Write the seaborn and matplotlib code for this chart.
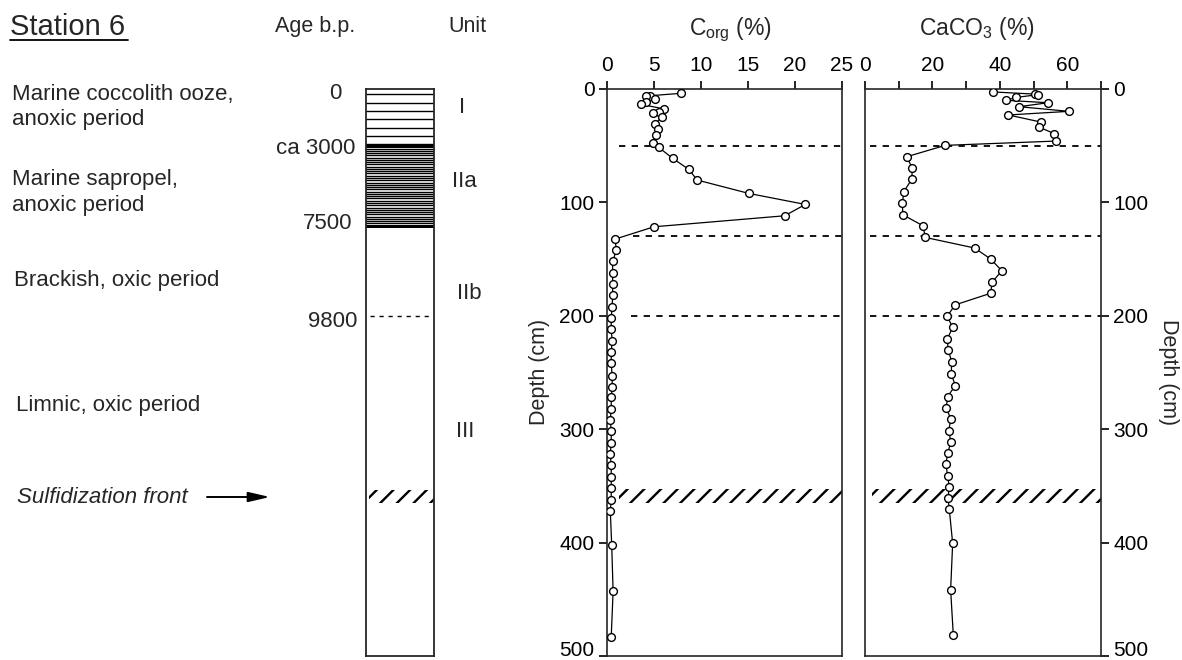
import numpy as np
import pandas as pd
import matplotlib
matplotlib.use("Agg")
import matplotlib.pyplot as plt
import matplotlib.transforms as mtransforms
import seaborn as sns
from matplotlib.patches import Rectangle
from matplotlib.lines import Line2D

# ---------------- data ----------------
corg_depth = [3.8, 5.9, 6.3, 8.8, 11.2, 13.5, 17.6, 20.6, 21.2, 25.0, 30.9, 35.0, 40.6, 47.4,
              51.5, 61.2, 70.9, 80.3, 92.1, 101.8, 111.8, 121.5, 132.4,
              142, 152, 162, 172, 182, 192, 202, 212, 222, 232, 242, 253, 263, 272, 282,
              292, 302, 312, 322, 332, 342, 352, 362, 372, 402, 443, 483]
corg_value = [7.9, 4.6, 4.2, 5.1, 4.2, 3.6, 6.1, 5.5, 4.9, 5.8, 5.1, 5.4, 5.2, 4.9,
              5.5, 7.0, 8.7, 9.6, 15.1, 21.1, 18.9, 5.0, 0.85,
              1.0, 0.6, 0.6, 0.6, 0.6, 0.55, 0.45, 0.45, 0.55, 0.45, 0.45, 0.55, 0.55, 0.45, 0.45,
              0.35, 0.45, 0.45, 0.35, 0.45, 0.45, 0.45, 0.45, 0.35, 0.5, 0.65, 0.45]

caco3_depth = [2.6, 4.5, 5.0, 7.4, 10.0, 12.1, 15.6, 19.7, 22.9, 29.1, 33.5, 39.4, 45.9, 49.7,
               59.7, 69.7, 79.4, 90.6, 100.9, 110.9, 120.6, 130.9, 140.2, 150.0, 160.3, 170.3,
               180.1, 190.4, 200.4, 210.3, 220.4, 230.4, 240.3, 251.5, 261.5, 271.2, 281.3,
               291.3, 301.2, 311.3, 321.0, 331.0, 341.0, 351.0, 360.7, 370.4, 400.7, 441.6, 481.9]
caco3_value = [38.0, 50.3, 51.3, 44.9, 41.9, 54.3, 45.7, 60.5, 42.5, 52.1, 51.5, 56.2, 56.8, 23.8,
               12.4, 14.0, 13.9, 11.5, 11.1, 11.2, 17.2, 17.9, 32.5, 37.3, 40.6, 37.7,
               37.3, 26.7, 24.4, 26.0, 24.4, 24.7, 25.7, 25.6, 26.8, 24.5, 24.1,
               25.5, 24.8, 25.5, 24.5, 24.0, 24.5, 25.0, 24.6, 25.0, 26.0, 25.4, 26.2]

boundary_depths = [50, 130, 200]
sulfidization_depth = [353, 365]
corg_ticks = [0, 5, 10, 15, 20, 25]
caco3_ticks = [0, 10, 20, 30, 40, 50, 60, 70]
caco3_ticklabels = ["0", "", "20", "", "40", "", "60", ""]
depth_ticks = [0, 100, 200, 300, 400, 500]

age_labels = ["0", "ca 3000", "7500", "9800"]
unit_labels = ["I", "IIa", "IIb", "III"]
period_labels = ["Marine coccolith ooze,\nanoxic period", "Marine sapropel,\nanoxic period",
                 "Brackish, oxic period", "Limnic, oxic period"]

# ---------------- style ----------------
sns.set_style("ticks")
plt.rcParams["font.family"] = ["Liberation Sans", "DejaVu Sans"]
plt.rcParams["mathtext.fontset"] = "custom"
plt.rcParams["mathtext.rm"] = "Liberation Sans"
plt.rcParams["mathtext.it"] = "Liberation Sans:italic"
plt.rcParams["hatch.linewidth"] = 1.7
plt.rcParams["axes.linewidth"] = 1.2

W, H = 1182, 660
fig = plt.figure(figsize=(W / 100, H / 100), dpi=100)
fig.patch.set_facecolor("white")


def fx(x):
    return x / W


def fy(y):
    return 1 - y / H


top_px, bot_px = 89, 656
ax_core = fig.add_axes([fx(366), fy(bot_px), (434 - 366) / W, (bot_px - top_px) / H])
ax1 = fig.add_axes([fx(607), fy(bot_px), (842 - 607) / W, (bot_px - top_px) / H])
ax2 = fig.add_axes([fx(865), fy(bot_px), (1101 - 865) / W, (bot_px - top_px) / H])

line_kw = dict(sort=False, estimator=None, marker="o", markersize=5.6,
               markerfacecolor="white", markeredgecolor="black", markeredgewidth=1.0,
               color="black", linewidth=0.9, zorder=5)

df1 = pd.DataFrame({"value": corg_value, "depth": corg_depth})
df2 = pd.DataFrame({"value": caco3_value, "depth": caco3_depth})
sns.lineplot(data=df1, x="value", y="depth", ax=ax1, **line_kw)
sns.lineplot(data=df2, x="value", y="depth", ax=ax2, **line_kw)

for ax in (ax1, ax2):
    ax.set_ylim(500, 0)
    ax.set_xlabel("")
    ax.set_ylabel("")
    for s in ax.spines.values():
        s.set_visible(True)
        s.set_linewidth(1.2)
    ax.tick_params(axis="both", direction="out", length=6, width=1.2, labelsize=15,
                   colors="black")
    ax.set_yticks(depth_ticks)

ax1.set_xlim(0, 25)
ax1.set_xticks(corg_ticks)
ax1.tick_params(axis="x", top=True, bottom=False, labeltop=True, labelbottom=False, pad=4)
ax1.tick_params(axis="y", left=True, right=False, labelleft=True, labelright=False, pad=3)

ax2.set_xlim(0, 70)
ax2.set_xticks(caco3_ticks)
ax2.set_xticklabels(caco3_ticklabels)
ax2.tick_params(axis="x", top=True, bottom=False, labeltop=True, labelbottom=False, pad=4)
ax2.tick_params(axis="y", left=False, right=True, labelleft=False, labelright=True, pad=3)

# lift the bottom "500" labels slightly so they stay inside the figure
fig.canvas.draw()
shift = mtransforms.ScaledTranslation(0, 8 / 100, fig.dpi_scale_trans)
for ax in (ax1, ax2):
    last = ax.yaxis.get_major_ticks()[-1]
    last.label1.set_transform(last.label1.get_transform() + shift)
    last.label2.set_transform(last.label2.get_transform() + shift)

# boundaries
dash = (0, (3.5, 3.5))
ax1.axhline(boundary_depths[0], xmin=0.05, xmax=1, color="black", lw=1.3, ls=dash, zorder=2)
ax1.axhline(boundary_depths[1], xmin=0.11, xmax=1, color="black", lw=1.3, ls=dash, zorder=2)
ax1.axhline(boundary_depths[2], xmin=0.10, xmax=1, color="black", lw=1.3, ls=dash, zorder=2)
for d in boundary_depths:
    ax2.axhline(d, xmin=0.02, xmax=1, color="black", lw=1.3, ls=dash, zorder=2)

# sulfidization band
s0, s1 = sulfidization_depth
ax1.add_patch(Rectangle((1.3, s0), 25 - 1.3, s1 - s0, fill=False, hatch="//",
                        edgecolor="black", lw=0, zorder=1))
ax2.add_patch(Rectangle((2.0, s0), 70 - 2.0, s1 - s0, fill=False, hatch="//",
                        edgecolor="black", lw=0, zorder=1))

# ---------------- core column ----------------
ax_core.set_xlim(0, 1)
ax_core.set_ylim(500, 0)
ax_core.set_xticks([])
ax_core.set_yticks([])
for s in ax_core.spines.values():
    s.set_visible(True)
    s.set_linewidth(1.3)
for d in np.arange(4.7, 49, 7.35):
    ax_core.axhline(d, color="black", lw=1.0)
ax_core.axhspan(49.5, 52.0, color="black", lw=0)
for d in np.arange(52.5, 121, 2.0):
    ax_core.axhline(d, color="black", lw=1.0)
ax_core.axhspan(120.3, 123, color="black", lw=0)
ax_core.axhline(200, xmin=0.06, xmax=0.94, color="black", lw=1.0, ls=(0, (3, 3.5)))
ax_core.add_patch(Rectangle((0.05, s0 + 1), 0.95, s1 - s0 - 1, fill=False, hatch="//",
                            edgecolor="black", lw=0))

# ---------------- texts ----------------
fs = 15.5
fig.text(fx(10), fy(35), "Station 6", fontsize=21, ha="left", va="baseline")
fig.add_artist(Line2D([fx(10), fx(128)], [fy(39.5), fy(39.5)], color="black", lw=1.3))
fig.text(fx(315), fy(32), "Age b.p.", fontsize=fs, ha="center", va="baseline")
fig.text(fx(467), fy(32), "Unit", fontsize=fs, ha="center", va="baseline")

period_pos = [(12, 100), (12, 185), (14, 286), (16, 411)]
for lab, (x, y) in zip(period_labels, period_pos):
    lines = lab.split("\n")
    for i, ln in enumerate(lines):
        fig.text(fx(x), fy(y + i * 25.5), ln, fontsize=fs + 0.5, ha="left", va="baseline")

fig.text(fx(17), fy(503), "Sulfidization front", fontsize=fs + 0.5, style="italic",
         ha="left", va="baseline")
ax_core.annotate("", xy=(fx(270), fy(497)), xycoords="figure fraction",
                 xytext=(fx(207), fy(497)), textcoords="figure fraction",
                 arrowprops=dict(arrowstyle="-|>,head_length=1.3,head_width=0.3",
                                 color="black", lw=1.4, shrinkA=0, shrinkB=0),
                 annotation_clip=False)

age_pos = [(342, 99), (355, 154), (352, 229), (357, 327)]
for lab, (x, y) in zip(age_labels, age_pos):
    fig.text(fx(x), fy(y), lab, fontsize=fs + 0.5, ha="right", va="baseline")

unit_pos = [(462, 113), (464, 187), (469, 299), (465, 437)]
for lab, (x, y) in zip(unit_labels, unit_pos):
    fig.text(fx(x), fy(y), lab, fontsize=fs + 0.5, ha="center", va="baseline")

fig.text(fx(730), fy(35), r"C$_{\mathrm{org}}$ (%)", fontsize=16.5, ha="center", va="baseline")
fig.text(fx(977), fy(35), r"CaCO$_{3}$ (%)", fontsize=16.5, ha="center", va="baseline")

fig.text(fx(540), fy(372), "Depth (cm)", fontsize=fs, rotation=90, ha="center", va="center")
fig.text(fx(1168), fy(372), "Depth (cm)", fontsize=fs, rotation=270, ha="center", va="center")

fig.savefig("out.png", dpi=100, facecolor="white")
